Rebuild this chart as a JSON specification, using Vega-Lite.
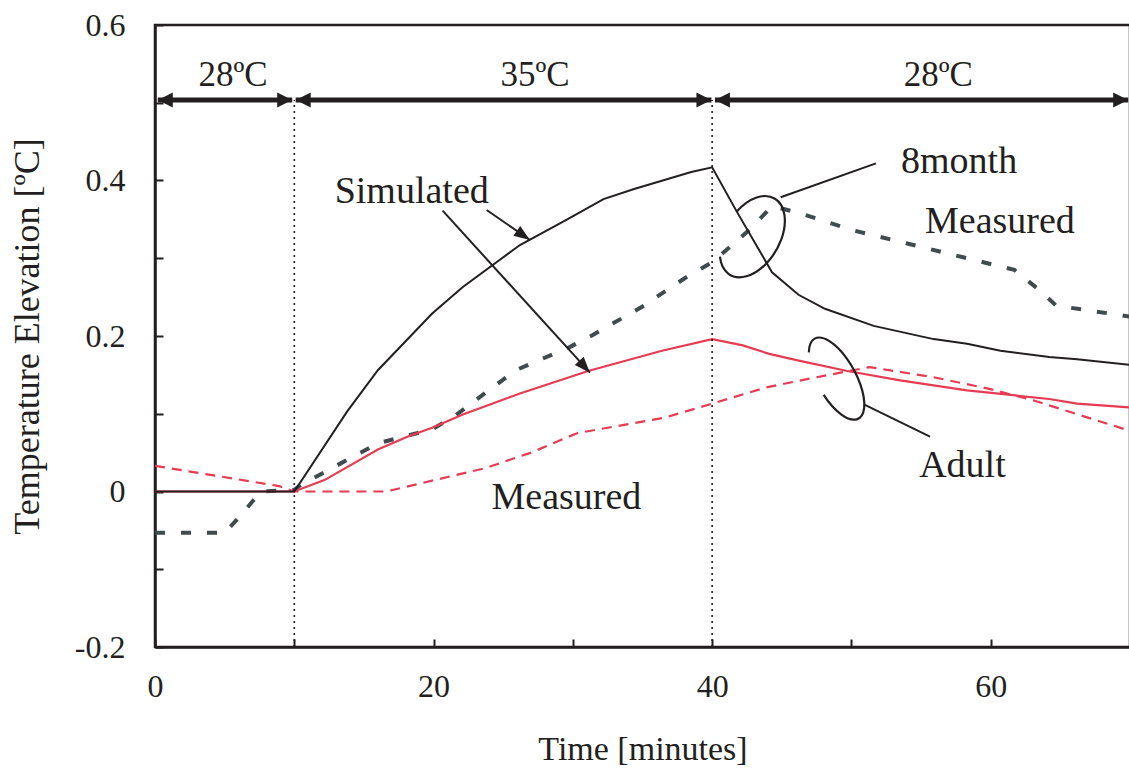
{
  "$schema": "https://vega.github.io/schema/vega-lite/v6.json",
  "width": 975,
  "height": 622,
  "autosize": "none",
  "padding": {"left": 155, "top": 25, "right": 0, "bottom": 136},
  "background": "white",
  "config": {
    "view": {"stroke": "#231f20", "strokeWidth": 2.5},
    "font": "Liberation Serif",
    "axis": {
      "domainColor": "#231f20", "domainWidth": 2.5, "tickColor": "#231f20", "tickWidth": 2,
      "grid": false, "labelFont": "Liberation Serif", "titleFont": "Liberation Serif",
      "labelColor": "#231f20", "titleColor": "#231f20", "titleFontWeight": "normal",
      "labelFontSize": 32, "titleFontSize": 34
    }
  },
  "datasets": {
    "curves": [
      {"s": "sim8", "t": 0, "v": 0}, {"s": "sim8", "t": 10, "v": 0}, {"s": "sim8", "t": 13.8, "v": 0.103},
      {"s": "sim8", "t": 16.0, "v": 0.156}, {"s": "sim8", "t": 19.9, "v": 0.229}, {"s": "sim8", "t": 22.1, "v": 0.263},
      {"s": "sim8", "t": 26.2, "v": 0.317}, {"s": "sim8", "t": 29.5, "v": 0.349}, {"s": "sim8", "t": 32.2, "v": 0.376},
      {"s": "sim8", "t": 34.4, "v": 0.389}, {"s": "sim8", "t": 38.5, "v": 0.411}, {"s": "sim8", "t": 40, "v": 0.417},
      {"s": "sim8", "t": 41.8, "v": 0.359}, {"s": "sim8", "t": 44.3, "v": 0.282}, {"s": "sim8", "t": 46.2, "v": 0.253},
      {"s": "sim8", "t": 48.1, "v": 0.235}, {"s": "sim8", "t": 51.6, "v": 0.213}, {"s": "sim8", "t": 55.9, "v": 0.196},
      {"s": "sim8", "t": 58.3, "v": 0.19}, {"s": "sim8", "t": 60.7, "v": 0.181}, {"s": "sim8", "t": 64.2, "v": 0.173},
      {"s": "sim8", "t": 66.2, "v": 0.17}, {"s": "sim8", "t": 70, "v": 0.163},

      {"s": "simA", "t": 0, "v": 0}, {"s": "simA", "t": 10, "v": 0}, {"s": "simA", "t": 12.2, "v": 0.015},
      {"s": "simA", "t": 16.0, "v": 0.054}, {"s": "simA", "t": 18.2, "v": 0.071}, {"s": "simA", "t": 19.9, "v": 0.082},
      {"s": "simA", "t": 22.1, "v": 0.099}, {"s": "simA", "t": 26.2, "v": 0.126}, {"s": "simA", "t": 31.1, "v": 0.155},
      {"s": "simA", "t": 36.4, "v": 0.181}, {"s": "simA", "t": 40, "v": 0.196}, {"s": "simA", "t": 42.2, "v": 0.188},
      {"s": "simA", "t": 44.1, "v": 0.177}, {"s": "simA", "t": 46.3, "v": 0.168}, {"s": "simA", "t": 49.7, "v": 0.155},
      {"s": "simA", "t": 53.5, "v": 0.143}, {"s": "simA", "t": 58.3, "v": 0.13}, {"s": "simA", "t": 64.2, "v": 0.119},
      {"s": "simA", "t": 66.2, "v": 0.113}, {"s": "simA", "t": 70, "v": 0.108},

      {"s": "measA", "t": 0, "v": 0.033}, {"s": "measA", "t": 8.9, "v": 0.007}, {"s": "measA", "t": 10, "v": 0},
      {"s": "measA", "t": 16.6, "v": 0}, {"s": "measA", "t": 23.7, "v": 0.03}, {"s": "measA", "t": 27.0, "v": 0.05},
      {"s": "measA", "t": 30.3, "v": 0.075}, {"s": "measA", "t": 32.5, "v": 0.082}, {"s": "measA", "t": 36.6, "v": 0.095},
      {"s": "measA", "t": 40, "v": 0.113}, {"s": "measA", "t": 43.9, "v": 0.134}, {"s": "measA", "t": 47.5, "v": 0.147},
      {"s": "measA", "t": 51.3, "v": 0.16}, {"s": "measA", "t": 55.9, "v": 0.147}, {"s": "measA", "t": 59.9, "v": 0.132},
      {"s": "measA", "t": 63.1, "v": 0.117}, {"s": "measA", "t": 70, "v": 0.078},

      {"s": "meas8", "t": 0, "v": -0.053}, {"s": "meas8", "t": 5.0, "v": -0.053}, {"s": "meas8", "t": 5.9, "v": -0.036},
      {"s": "meas8", "t": 7.6, "v": 0.0}, {"s": "meas8", "t": 10, "v": 0.002}, {"s": "meas8", "t": 10.5, "v": 0.009},
      {"s": "meas8", "t": 12.5, "v": 0.028}, {"s": "meas8", "t": 16.0, "v": 0.062}, {"s": "meas8", "t": 19.9, "v": 0.08},
      {"s": "meas8", "t": 21.5, "v": 0.097}, {"s": "meas8", "t": 25.9, "v": 0.156}, {"s": "meas8", "t": 29.8, "v": 0.186},
      {"s": "meas8", "t": 31.4, "v": 0.201}, {"s": "meas8", "t": 35.0, "v": 0.238}, {"s": "meas8", "t": 38.0, "v": 0.274},
      {"s": "meas8", "t": 40, "v": 0.295}, {"s": "meas8", "t": 41.3, "v": 0.315}, {"s": "meas8", "t": 42.7, "v": 0.337},
      {"s": "meas8", "t": 44.3, "v": 0.367}, {"s": "meas8", "t": 46.1, "v": 0.359}, {"s": "meas8", "t": 50.1, "v": 0.336},
      {"s": "meas8", "t": 54.0, "v": 0.319}, {"s": "meas8", "t": 59.9, "v": 0.293}, {"s": "meas8", "t": 61.7, "v": 0.285},
      {"s": "meas8", "t": 63.5, "v": 0.259}, {"s": "meas8", "t": 64.7, "v": 0.239}, {"s": "meas8", "t": 70, "v": 0.225}
    ],
    "segs": [
      {"k": "span", "t": 0.2, "t2": 9.85, "v": 0.5035, "v2": 0.5035},
      {"k": "span", "t": 10.1, "t2": 39.95, "v": 0.5035, "v2": 0.5035},
      {"k": "span", "t": 40.2, "t2": 69.87, "v": 0.5035, "v2": 0.5035},
      {"k": "dot", "t": 10, "t2": 10, "v": -0.2, "v2": 0.5035},
      {"k": "dot", "t": 40, "t2": 40, "v": -0.2, "v2": 0.5035},
      {"k": "ptr", "t": 23.81, "t2": 26.92, "v": 0.3621, "v2": 0.3235},
      {"k": "ptr", "t": 20.65, "t2": 31.23, "v": 0.3612, "v2": 0.1528},
      {"k": "ptr", "t": 44.92, "t2": 51.76, "v": 0.3784, "v2": 0.4221},
      {"k": "ptr", "t": 50.97, "t2": 55.64, "v": 0.1113, "v2": 0.0705}
    ],
    "heads": [
      {"h": "r", "t": 9.85, "v": 0.5035}, {"h": "r", "t": 39.95, "v": 0.5035}, {"h": "r", "t": 69.87, "v": 0.5035},
      {"h": "l", "t": 0.2, "v": 0.5035}, {"h": "l", "t": 10.1, "v": 0.5035}, {"h": "l", "t": 40.2, "v": 0.5035},
      {"h": "a1", "t": 26.92, "v": 0.3235}, {"h": "a2", "t": 31.23, "v": 0.1528},
      {"h": "e1", "t": 42.88, "v": 0.3277}, {"h": "e2", "t": 48.94, "v": 0.1451}
    ],
    "labels": [
      {"g": "temp", "t": 5.6, "v": 0.5215, "txt": "28ºC"},
      {"g": "temp", "t": 27.28, "v": 0.5215, "txt": "35ºC"},
      {"g": "temp", "t": 56.24, "v": 0.5215, "txt": "28ºC"},
      {"g": "ann", "t": 18.43, "v": 0.3714, "txt": "Simulated"},
      {"g": "ann", "t": 57.73, "v": 0.4093, "txt": "8month"},
      {"g": "ann", "t": 60.66, "v": 0.3329, "txt": "Measured"},
      {"g": "ann", "t": 29.54, "v": -0.0229, "txt": "Measured"},
      {"g": "ann", "t": 57.97, "v": 0.019, "txt": "Adult"}
    ]
  },
  "encoding": {
    "x": {
      "field": "t", "type": "quantitative",
      "scale": {"domain": [0, 70], "nice": false, "zero": false},
      "axis": {
        "title": "Time [minutes]", "values": [0, 10, 20, 30, 40, 50, 60, 70],
        "labelExpr": "datum.value % 20 === 0 ? datum.value + '' : ''",
        "tickSize": -8, "labelPadding": 32, "titlePadding": 30, "labelFlush": false
      }
    },
    "y": {
      "field": "v", "type": "quantitative",
      "scale": {"domain": [-0.2, 0.6], "nice": false, "zero": false},
      "axis": {
        "title": "Temperature Elevation [ºC]", "titleFontSize": 36,
        "values": [-0.2, -0.1, 0, 0.1, 0.2, 0.3, 0.4, 0.5, 0.6],
        "labelExpr": "abs(round(datum.value * 10)) % 2 == 0 ? (abs(datum.value) < 0.001 ? '0' : (datum.value < 0 ? '-' : '') + format(abs(datum.value), '.1f')) : ''",
        "tickSize": -8, "labelPadding": 38, "titlePadding": 28, "labelFlush": false
      }
    }
  },
  "layer": [
    {
      "data": {"name": "curves"},
      "transform": [{"filter": "datum.s === 'measA'"}],
      "mark": {"type": "line", "color": "#e63b52", "strokeWidth": 2.2, "strokeDash": [10, 7]}
    },
    {
      "data": {"name": "curves"},
      "transform": [{"filter": "datum.s === 'meas8'"}],
      "mark": {"type": "line", "color": "#3f4b4c", "strokeWidth": 4, "strokeDash": [10, 16]}
    },
    {
      "data": {"name": "curves"},
      "transform": [{"filter": "datum.s === 'simA'"}],
      "mark": {"type": "line", "color": "#e63b52", "strokeWidth": 2.2}
    },
    {
      "data": {"name": "curves"},
      "transform": [{"filter": "datum.s === 'sim8'"}],
      "mark": {"type": "line", "color": "#231f20", "strokeWidth": 2}
    },
    {
      "data": {"name": "segs"},
      "transform": [{"filter": "datum.k === 'dot'"}],
      "mark": {"type": "rule", "color": "#231f20", "strokeWidth": 1.6, "strokeDash": [2, 4]},
      "encoding": {"y2": {"field": "v2"}}
    },
    {
      "data": {"name": "segs"},
      "transform": [{"filter": "datum.k === 'span'"}],
      "mark": {"type": "rule", "color": "#231f20", "strokeWidth": 5},
      "encoding": {"x2": {"field": "t2"}}
    },
    {
      "data": {"name": "segs"},
      "transform": [{"filter": "datum.k === 'ptr'"}],
      "mark": {"type": "rule", "color": "#231f20", "strokeWidth": 2},
      "encoding": {"x2": {"field": "t2"}, "y2": {"field": "v2"}}
    },
    {
      "data": {"name": "heads"},
      "transform": [{"filter": "datum.h === 'r'"}],
      "mark": {"type": "point", "shape": "M0,0L-15,-7.5L-15,7.5Z", "size": 4, "filled": true, "color": "#231f20", "opacity": 1}
    },
    {
      "data": {"name": "heads"},
      "transform": [{"filter": "datum.h === 'l'"}],
      "mark": {"type": "point", "shape": "M0,0L15,-7.5L15,7.5Z", "size": 4, "filled": true, "color": "#231f20", "opacity": 1}
    },
    {
      "data": {"name": "heads"},
      "transform": [{"filter": "datum.h === 'a1'"}],
      "mark": {"type": "point", "shape": "M0,0L-16,-6L-16,6Z", "size": 4, "filled": true, "color": "#231f20", "opacity": 1, "angle": 34.7}
    },
    {
      "data": {"name": "heads"},
      "transform": [{"filter": "datum.h === 'a2'"}],
      "mark": {"type": "point", "shape": "M0,0L-16,-6L-16,6Z", "size": 4, "filled": true, "color": "#231f20", "opacity": 1, "angle": 47.7}
    },
    {
      "data": {"name": "heads"},
      "transform": [{"filter": "datum.h === 'e1'"}],
      "mark": {"type": "point", "shape": "M-15.7,-25A44.2,27.5,-59.8,1,1,-32.3,20", "size": 4, "filled": false, "color": "#231f20", "strokeWidth": 2.2, "opacity": 1}
    },
    {
      "data": {"name": "heads"},
      "transform": [{"filter": "datum.h === 'e2'"}],
      "mark": {"type": "point", "shape": "M-27.8,-26.3A45.6,19.4,61.3,1,1,-13,16.1", "size": 4, "filled": false, "color": "#231f20", "strokeWidth": 2.2, "opacity": 1}
    },
    {
      "data": {"name": "labels"},
      "transform": [{"filter": "datum.g === 'temp'"}],
      "mark": {"type": "text", "font": "Liberation Serif", "fontSize": 35, "color": "#231f20", "align": "center", "baseline": "alphabetic"},
      "encoding": {"text": {"field": "txt"}}
    },
    {
      "data": {"name": "labels"},
      "transform": [{"filter": "datum.g === 'ann'"}],
      "mark": {"type": "text", "font": "Liberation Serif", "fontSize": 38, "color": "#231f20", "align": "center", "baseline": "alphabetic"},
      "encoding": {"text": {"field": "txt"}}
    }
  ]
}
